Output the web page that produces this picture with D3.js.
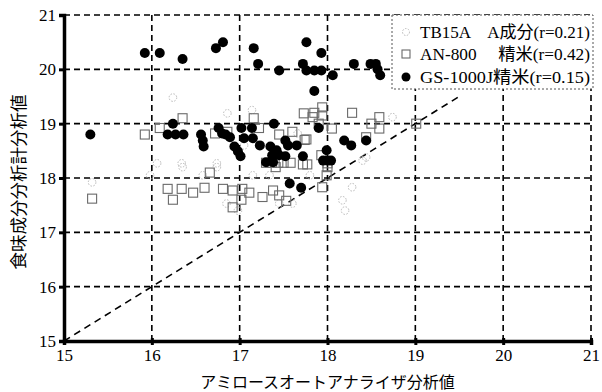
<!DOCTYPE html>
<html>
<head>
<meta charset="utf-8">
<script src="https://cdn.jsdelivr.net/npm/d3@7"></script>
<style>
  body { margin: 0; background: #fff; }
  svg { display: block; }
</style>
</head>
<body>
<svg id="chart" width="602" height="392"></svg>
<script>
// values: [amylose analyzer, taste analyzer]
const tb15a = [
  [15.32, 17.92], [16.24, 19.48], [16.86, 19.19], [17.14, 19.25], [16.58, 18.05],
  [17.15, 18.05], [15.98, 18.05], [17.34, 18.05], [16.85, 17.53], [16.98, 17.4],
  [16.74, 18.2], [16.35, 18.2], [17.45, 17.53], [17.6, 17.53], [18.44, 18.38],
  [18.74, 19.12], [17.66, 18.82], [16.34, 18.27], [16.74, 18.27], [16.06, 18.27],
  [18.17, 17.59], [18.28, 17.83], [18.4, 18.32], [17.05, 18.6], [17.8, 18.05], [18.2, 17.4]
];
const an800 = [
  [15.32, 17.62], [15.92, 18.8], [16.09, 18.92], [16.35, 19.1], [16.72, 18.82],
  [16.86, 18.85], [17.16, 19.1], [17.22, 18.92], [17.45, 18.8], [17.6, 18.85],
  [17.76, 18.71], [17.73, 19.19], [17.85, 19.2], [17.83, 19.12], [17.94, 19.3],
  [17.94, 19.15], [17.9, 19.0], [18.05, 18.91], [17.93, 18.42], [17.3, 18.28],
  [17.37, 18.28], [17.44, 18.28], [17.5, 18.28], [17.58, 18.28], [17.72, 18.25],
  [17.77, 18.25], [18.0, 18.2], [18.28, 19.2], [18.5, 19.0], [18.59, 19.12],
  [18.59, 18.91], [18.0, 18.27], [17.94, 17.83], [19.01, 19.0], [17.74, 18.7],
  [16.18, 17.8], [16.24, 17.6], [16.34, 17.8], [16.47, 17.73], [16.6, 17.82],
  [16.81, 17.8], [16.92, 17.77], [17.03, 17.8], [16.92, 17.46], [17.11, 17.73],
  [17.26, 17.65], [17.38, 17.77], [17.45, 17.68], [17.53, 17.58], [17.41, 18.2],
  [17.99, 18.05], [16.66, 18.1], [17.02, 17.6], [18.44, 18.75]
];
const gs1000j = [
  [15.3, 18.8],
  [15.92, 20.3], [16.09, 20.3], [16.35, 20.19], [16.73, 20.39], [16.81, 20.5],
  [17.16, 20.39], [17.21, 20.1], [17.45, 19.98], [17.76, 20.5], [17.72, 20.1],
  [17.76, 19.98], [17.85, 19.98], [17.93, 19.98], [17.93, 20.3], [17.85, 19.6],
  [18.06, 19.89], [18.3, 20.1], [18.49, 20.1], [18.55, 20.1], [18.57, 20.0], [18.6, 19.89],
  [16.24, 19.0], [16.18, 18.8], [16.27, 18.8], [16.36, 18.8], [16.56, 18.8],
  [16.58, 18.69], [16.59, 18.58], [16.76, 18.92], [16.8, 18.82], [16.84, 18.8],
  [16.89, 18.75], [16.94, 18.58], [16.98, 18.49], [17.01, 18.4], [17.02, 18.92],
  [17.05, 18.73], [17.14, 18.92], [17.15, 18.73], [17.23, 18.6], [17.39, 19.0],
  [17.35, 18.58], [17.3, 18.29], [17.38, 18.29], [17.37, 18.42], [17.42, 18.51],
  [17.45, 18.42], [17.52, 18.69], [17.55, 18.6], [17.65, 18.6], [17.52, 18.4],
  [17.72, 18.4], [17.9, 18.92], [17.99, 18.51], [17.95, 18.32], [18.0, 18.32],
  [18.04, 18.32], [18.19, 18.69], [18.27, 18.6], [18.44, 18.69], [17.57, 17.9], [17.7, 17.82]
];
const ticks = [15, 16, 17, 18, 19, 20, 21];
const diagonal = [15, 19.5];
const legendLabels = ['TB15A　A成分(r=0.21)', 'AN-800　 精米(r=0.42)', 'GS-1000J精米(r=0.15)'];
const xTitle = 'アミロースオートアナライザ分析値';
const yTitle = '食味成分分析計分析値';

const svg = d3.select('#chart');
const x = d3.scaleLinear().domain([15, 21]).range([64, 591]);
const y = d3.scaleLinear().domain([15, 21]).range([341, 15]);
const numFont = '"Liberation Serif", "DejaVu Serif", serif';
const jpFont = '"Noto Sans CJK JP", "Liberation Serif", serif';
const mixFont = '"Liberation Serif", "Noto Sans CJK JP", serif';

// dashed grid (also makes the top/right frame)
const grid = svg.append('g').attr('stroke', '#000').attr('stroke-width', 1.6).attr('stroke-dasharray', '6,4');
grid.selectAll('line.v')
  .data(ticks.slice(1))
  .join('line')
  .attr('class', 'v')
  .attr('x1', d => x(d)).attr('x2', d => x(d))
  .attr('y1', y(15)).attr('y2', y(21));
grid.selectAll('line.h')
  .data(ticks.slice(1))
  .join('line')
  .attr('class', 'h')
  .attr('x1', x(15)).attr('x2', x(21))
  .attr('y1', d => y(d)).attr('y2', d => y(d));

// 1:1 line
svg.append('line')
  .attr('x1', x(diagonal[0])).attr('y1', y(diagonal[0]))
  .attr('x2', x(diagonal[1])).attr('y2', y(diagonal[1]))
  .attr('stroke', '#000').attr('stroke-width', 1.6).attr('stroke-dasharray', '7,5');

// axes
const xAxis = svg.append('g').attr('transform', `translate(0,${y(15)})`)
  .call(d3.axisBottom(x).tickValues(ticks).tickSize(4).tickFormat(d3.format('d')));
const yAxis = svg.append('g').attr('transform', `translate(${x(15)},0)`)
  .call(d3.axisLeft(y).tickValues(ticks).tickSize(5).tickFormat(d3.format('d')));
[xAxis, yAxis].forEach(a => {
  a.attr('font-family', numFont).attr('font-size', 17);
  a.select('.domain').attr('stroke', '#000').attr('stroke-width', 3.5);
  a.selectAll('.tick line').attr('stroke', '#000').attr('stroke-width', 3);
  a.selectAll('.tick text').attr('fill', '#000');
});
xAxis.selectAll('.tick line').attr('y1', -3);
xAxis.selectAll('.tick text').attr('y', 8);
yAxis.selectAll('.tick text').attr('x', -8);

// points
const pts = svg.append('g');
pts.selectAll('circle.tb')
  .data(tb15a)
  .join('circle')
  .attr('class', 'tb')
  .attr('cx', d => x(d[0])).attr('cy', d => y(d[1]))
  .attr('r', 3.8)
  .attr('fill', 'none')
  .attr('stroke', '#b8b8b8')
  .attr('stroke-width', 1)
  .attr('stroke-dasharray', '1.5,1.5');
pts.selectAll('rect.an')
  .data(an800)
  .join('rect')
  .attr('class', 'an')
  .attr('x', d => x(d[0]) - 4.5).attr('y', d => y(d[1]) - 4.5)
  .attr('width', 9).attr('height', 9)
  .attr('fill', 'none')
  .attr('stroke', '#6a6a6a')
  .attr('stroke-width', 1.1);
pts.selectAll('circle.gs')
  .data(gs1000j)
  .join('circle')
  .attr('class', 'gs')
  .attr('cx', d => x(d[0])).attr('cy', d => y(d[1]))
  .attr('r', 5)
  .attr('fill', '#000');

// legend
const lg = svg.append('g').attr('transform', 'translate(392,15)');
lg.append('rect')
  .attr('width', 201).attr('height', 74)
  .attr('fill', '#fff')
  .attr('stroke', '#555').attr('stroke-width', 1).attr('stroke-dasharray', '2,2');
const rowY = [17, 39, 62];
lg.append('circle').attr('cx', 14).attr('cy', rowY[0]).attr('r', 3.5)
  .attr('fill', 'none').attr('stroke', '#b8b8b8').attr('stroke-dasharray', '1.5,1.5');
lg.append('rect').attr('x', 10).attr('y', rowY[1] - 4).attr('width', 8).attr('height', 8)
  .attr('fill', 'none').attr('stroke', '#6a6a6a').attr('stroke-width', 1.1);
lg.append('circle').attr('cx', 14).attr('cy', rowY[2]).attr('r', 4.5).attr('fill', '#000');
lg.selectAll('text')
  .data(legendLabels)
  .join('text')
  .attr('x', 28)
  .attr('y', (d, i) => rowY[i])
  .attr('dy', '0.36em')
  .attr('textLength', 170)
  .attr('lengthAdjust', 'spacingAndGlyphs')
  .style('font-family', mixFont)
  .style('font-size', '17px')
  .attr('fill', '#000')
  .text(d => d);

// axis titles
svg.append('text')
  .attr('x', (x(16.4) + x(19.6)) / 2)
  .attr('y', 388)
  .attr('text-anchor', 'middle')
  .style('font-family', jpFont)
  .style('font-size', '16px')
  .attr('fill', '#000')
  .text(xTitle);
svg.append('text')
  .attr('transform', `translate(19,${(93 + 271) / 2}) rotate(-90)`)
  .attr('text-anchor', 'middle')
  .attr('dy', '0.35em')
  .style('font-family', jpFont)
  .style('font-size', '17.5px')
  .attr('fill', '#000')
  .text(yTitle);
</script>
</body>
</html>
